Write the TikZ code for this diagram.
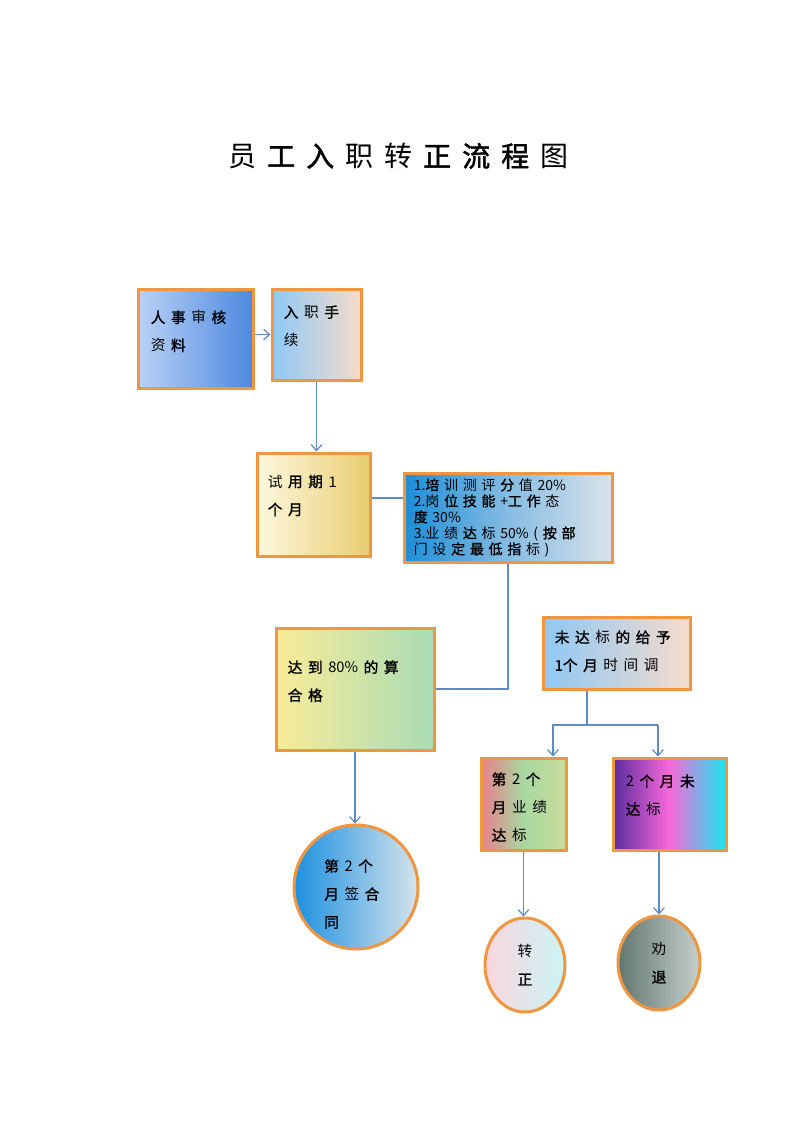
\documentclass[tikz,border=0pt]{standalone}
\usepackage{fontspec}
\usetikzlibrary{positioning,shapes.geometric,arrows.meta}
\newfontfamily\cjk[BoldFont={Noto Sans CJK SC}, BoldFeatures={FakeBold=1.5}]{Noto Sans CJK SC}
\newfontfamily\cjkbox[Scale=1.0001, WordSpace=1.7, BoldFont={Noto Sans CJK SC}, BoldFeatures={FakeBold=1.51}]{Noto Sans CJK SC}
\newfontfamily\cjkcrit[Scale=1.0002, WordSpace=1.5, BoldFont={Noto Sans CJK SC}, BoldFeatures={FakeBold=1.41}]{Noto Sans CJK SC}
\newfontfamily\cjktitle[Scale=1.0003, WordSpace=1.75, BoldFont={Noto Sans CJK SC}, BoldFeatures={FakeBold=1.61}]{Noto Sans CJK SC}
\newcommand\bd[1]{\textbf{#1}}
\definecolor{edgeorange}{HTML}{F09640}
\definecolor{linkblue}{HTML}{5B8BC8}
\definecolor{hrL}{HTML}{B9D2F5}
\definecolor{hrR}{HTML}{4D88E0}
\definecolor{entryL}{HTML}{8EC8F6}
\definecolor{entryR}{HTML}{F6DCCA}
\definecolor{trialL}{HTML}{FDF8DE}
\definecolor{trialR}{HTML}{E8CD70}
\definecolor{critL}{HTML}{1B8ED8}
\definecolor{critM}{HTML}{86BCE2}
\definecolor{critR}{HTML}{D9E3EA}
\definecolor{passL}{HTML}{FAEC98}
\definecolor{passR}{HTML}{A8DCB4}
\definecolor{okL}{HTML}{E8808C}
\definecolor{okM}{HTML}{A8D8A0}
\definecolor{okR}{HTML}{C8DC9C}
\definecolor{failL}{HTML}{5A2CA0}
\definecolor{failM}{HTML}{F868D8}
\definecolor{failR}{HTML}{18E8F0}
\definecolor{signL}{HTML}{1C90E0}
\definecolor{signR}{HTML}{D6E4EC}
\definecolor{regL}{HTML}{F9D6DE}
\definecolor{regR}{HTML}{CCF4F4}
\definecolor{quitL}{HTML}{627670}
\definecolor{quitR}{HTML}{C6D0CC}
\tikzset{
  stepbox/.style={draw=edgeorange, line width=2.25pt, inner sep=0pt},
  boxtext/.style={inner sep=0pt, align=left, font=\cjkbox\fontsize{11}{21}\selectfont},
  flow/.style={draw=linkblue, line width=0.9pt, -{Straight Barb[length=4.5pt,width=8pt]}},
  link/.style={draw=linkblue, line width=0.9pt},
}

\begin{document}
\begin{tikzpicture}[x=0.75pt, y=-0.75pt]
  \fill[white] (0,0) rectangle (800,1133);
  \useasboundingbox (0,0) rectangle (800,1133);
  % Title
  \node[anchor=west, inner sep=0pt, font=\cjktitle\fontsize{21}{21}\selectfont] (title) at (228,156) {员 \bd{工 入} 职 转 \bd{正 流 程} 图};
  % Define nodes
  \node[stepbox, minimum width=86.25pt, minimum height=74.25pt, left color=hrL, right color=hrR] (hr) at (195.5,338.5) {};
  \node[stepbox, minimum width=66.75pt, minimum height=68.25pt, left color=entryL, right color=entryR] (entry) at (316.5,334.5) {};
  \node[stepbox, minimum width=84.75pt, minimum height=77.25pt, left color=trialL, right color=trialR] (trial) at (313.5,504.5) {};
  \node[stepbox, minimum width=156pt, minimum height=66.75pt, left color=critL, right color=critR, middle color=critM] (crit) at (508,517.5) {};
  \node[stepbox, minimum width=118.5pt, minimum height=91.5pt, left color=passL, right color=passR] (pass) at (355,689) {};
  \node[stepbox, minimum width=110.25pt, minimum height=54pt, left color=entryL, right color=entryR] (retry) at (616.5,653) {};
  \node[stepbox, minimum width=63.75pt, minimum height=69pt, left color=okL, right color=okR, middle color=okM] (ok2) at (523.5,804) {};
  \node[stepbox, minimum width=84.75pt, minimum height=69pt, left color=failL, right color=failR, middle color=failM] (fail2) at (669.5,804) {};
  \node[stepbox, circle, minimum size=93pt, left color=signL, right color=signR] (sign) at (356,887) {};
  \node[stepbox, ellipse, minimum width=60pt, minimum height=70.5pt, left color=regL, right color=regR, align=center, font=\cjk\fontsize{11}{21}\selectfont] (reg) at (525,965) {转\\\bd{正}};
  \node[stepbox, ellipse, minimum width=61.5pt, minimum height=70.5pt, left color=quitL, right color=quitR, align=center, font=\cjk\fontsize{11}{21}\selectfont] (quit) at (659,963) {劝\\\bd{退}};
  % Box texts
  \node[boxtext, below right=17pt and 10.5pt of hr.north west] (hrt) {\bd{人 事} 审 \bd{核}\\资 \bd{料}};
  \node[boxtext, below right=13.25pt and 9.75pt of entry.north west] (entryt) {\bd{入} 职 \bd{手}\\续};
  \node[boxtext, below right=17.25pt and 9pt of trial.north west] (trialt) {试 \bd{用 期} 1\\\bd{个 月}};
  \node[boxtext, below right=5pt and 8.25pt of crit.north west, font=\cjkcrit\fontsize{10.5}{12}\selectfont] (critt) {1.\bd{培} 训 测 评 \bd{分} 值 20\%\\2.岗 \bd{位 技 能} +\bd{工 作} 态\\\bd{度} 30\%\\3.业 绩 \bd{达} 标 50\% ( \bd{按 部}\\门 设 \bd{定 最 低 指} 标 )};
  \node[boxtext, below right=25.25pt and 9.75pt of pass.north west] (passt) {\bd{达 到} 80\% \bd{的 算}\\\bd{合 格}};
  \node[boxtext, below right=11pt and 9.75pt of retry.north west] (retryt) {\bd{未 达} 标 \bd{的 给 予}\\\bd{1个 月} 时 间 调};
  \node[boxtext, below right=11.75pt and 9pt of ok2.north west] (ok2t) {\bd{第} 2 \bd{个}\\\bd{月} 业 绩\\\bd{达} 标};
  \node[boxtext, below right=13.25pt and 10.5pt of fail2.north west] (fail2t) {2 \bd{个 月 未}\\\bd{达} 标};
  \node[boxtext, anchor=north west] (signt) at (324,859) {\bd{第} 2 \bd{个}\\\bd{月} 签 \bd{合}\\\bd{同}};
  % Connect nodes
  \coordinate (split) at (587,725);
  \coordinate (ok2in) at (553,725);
  \coordinate (fail2in) at (658,725);
  \draw[flow] (hr.east |- entry.west) -- (entry.west);
  \draw[flow] (entry.south) -- (entry.south |- trial.north);
  \draw[link] ([yshift=4.9pt]trial.east) -- ([yshift=4.9pt]trial.east -| crit.west);
  \draw[link] (crit.south) |- (pass.east);
  \draw[link] (split |- retry.south) -- (split);
  \draw[flow] (fail2in) -- (ok2in) -- (ok2in |- ok2.north);
  \draw[flow] (fail2in) -- (fail2in |- fail2.north);
  \draw[flow] (pass.south) -- (pass.south |- sign.north);
  \draw[flow] (ok2.south) -- (ok2.south |- reg.north);
  \draw[flow] (quit.north |- fail2.south) -- (quit.north);
\end{tikzpicture}
\end{document}
